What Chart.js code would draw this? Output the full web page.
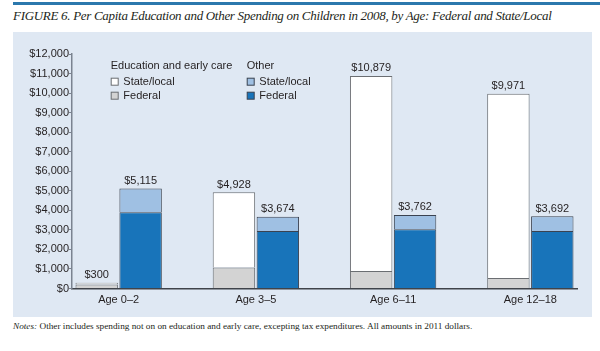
<!DOCTYPE html>
<html><head><meta charset="utf-8">
<script src="https://cdn.jsdelivr.net/npm/chart.js@4.4.0/dist/chart.umd.min.js"></script>
<style>
html,body{margin:0;padding:0;background:#fff;width:600px;height:351px;overflow:hidden;}
#rule{position:absolute;left:13px;top:2px;width:587px;height:3px;background:#2b78ad;}
#title{position:absolute;left:13px;top:8px;line-height:18px;font:italic 13px "Liberation Serif",serif;letter-spacing:-0.3px;color:#231f20;white-space:nowrap;}
#panel{position:absolute;left:13px;top:32px;width:579px;height:285px;background:#dfe8f3;}
#notes{position:absolute;left:13px;top:320px;line-height:12px;font-size:9.25px;font-family:"Liberation Serif",serif;color:#231f20;white-space:nowrap;}
</style></head>
<body>
<div id="rule"></div>
<div id="title">FIGURE 6. Per Capita Education and Other Spending on Children in 2008, by Age: Federal and State/Local</div>
<div id="panel"><canvas id="c"></canvas></div>
<div id="notes"><i>Notes:</i> Other includes spending not on on education and early care, excepting tax expenditures. All amounts in 2011 dollars.</div>
<script>
const categories = ["Age 0\u20132", "Age 3\u20135", "Age 6\u201311", "Age 12\u201318"];
const eduFederal = [200, 1080, 890, 540];
const eduStateLocal = [100, 3848, 9989, 9431];
const otherFederal = [3900, 2940, 3030, 2940];
const otherStateLocal = [1215, 734, 732, 752];
const yTicks = [0,1000,2000,3000,4000,5000,6000,7000,8000,9000,10000,11000,12000];

const fmt = v => '$' + v.toLocaleString('en-US');
const pts = arr => arr.map((v,i)=>({x:i,y:v}));

Chart.defaults.font.family = '"Liberation Sans", Arial, sans-serif';
Chart.defaults.font.size = 11;
Chart.defaults.color = '#231f20';

const datasets = [
  {label:'Federal', group:'Education and early care', stack:'edu', data:pts(eduFederal), backgroundColor:'#d3d3d3', borderColor:'#6b6e72'},
  {label:'State/local', group:'Education and early care', stack:'edu', data:pts(eduStateLocal), backgroundColor:'#ffffff', borderColor:'#6b6e72'},
  {label:'Federal', group:'Other', stack:'other', data:pts(otherFederal), backgroundColor:'#1874ba', borderColor:'#3a4250'},
  {label:'State/local', group:'Other', stack:'other', data:pts(otherStateLocal), backgroundColor:'#9fc0e3', borderColor:'#3a4250'}
];
datasets.forEach(d=>{d.borderWidth=1;d.borderSkipped='start';d.categoryPercentage=0.64;d.barPercentage=0.966;});

const totalsPlugin = {
  id:'totals',
  afterDatasetsDraw(chart){
    const ctx = chart.ctx;
    ctx.save();
    ctx.font = '11px "Liberation Sans", Arial, sans-serif';
    ctx.fillStyle = '#231f20';
    ctx.textAlign = 'center';
    ctx.textBaseline = 'alphabetic';
    [[0,1],[2,3]].forEach(pair=>{
      const top = chart.getDatasetMeta(pair[1]);
      categories.forEach((c,i)=>{
        const el = top.data[i];
        const total = chart.data.datasets[pair[0]].data[i].y + chart.data.datasets[pair[1]].data[i].y;
        ctx.fillText(fmt(total), el.x, el.y - 4.5);
      });
    });
    ctx.restore();
  }
};

const legendPlugin = {
  id:'groupLegend',
  afterDraw(chart){
    const ctx = chart.ctx;
    const ds = chart.data.datasets;
    const L = chart.chartArea.left, T = chart.chartArea.top;
    const cols = [{x:L+38.7, title:'Education and early care', rows:[1,0]},{x:L+174.7, title:'Other', rows:[3,2]}];
    ctx.save();
    ctx.font = '11px "Liberation Sans", Arial, sans-serif';
    ctx.textBaseline = 'middle';
    ctx.textAlign = 'left';
    cols.forEach(col=>{
      ctx.fillStyle = '#231f20';
      ctx.fillText(col.title, col.x, T + 12);
      col.rows.forEach((di,r)=>{
        const y = T + 23.7 + r*14;
        ctx.fillStyle = ds[di].backgroundColor;
        ctx.fillRect(col.x+0.5, y+0.5, 7, 7);
        ctx.strokeStyle = ds[di].borderColor;
        ctx.lineWidth = 1;
        ctx.strokeRect(col.x+0.5, y+0.5, 7, 7);
        ctx.fillStyle = '#231f20';
        ctx.fillText(ds[di].label, col.x + 12.6, y + 4.2);
      });
    });
    ctx.restore();
  }
};

new Chart(document.getElementById('c'), {
  type:'bar',
  data:{datasets},
  plugins:[totalsPlugin, legendPlugin],
  options:{
    responsive:true, maintainAspectRatio:false, animation:false,
    layout:{padding:{top:22,right:15,left:0,bottom:0}},
    plugins:{legend:{display:false}, tooltip:{enabled:false}},
    scales:{
      x:{
        type:'linear', stacked:true, min:-0.34, max:3.34, offset:false, bounds:'data',
        afterBuildTicks: s => { s.ticks = categories.map((c,i)=>({value:i})); },
        afterFit: s => { s.height = 28.5; },
        grid:{display:false, drawTicks:false, offset:false},
        border:{display:true, color:'#3f434a', width:1.5},
        ticks:{padding:5, autoSkip:false, maxRotation:0, includeBounds:false,
          callback: v => categories[v] !== undefined ? categories[v] : ''}
      },
      y:{
        stacked:true, min:0, max:12000,
        afterBuildTicks: s => { s.ticks = yTicks.map(v=>({value:v})); },
        afterFit: s => { s.width = 59; },
        grid:{drawOnChartArea:false, drawTicks:true, tickLength:3, color:'#7b8390', lineWidth:1},
        border:{display:true, color:'#7b8390', width:1.5},
        ticks:{padding:0, callback: v => fmt(v)}
      }
    }
  }
});
</script>
</body></html>
